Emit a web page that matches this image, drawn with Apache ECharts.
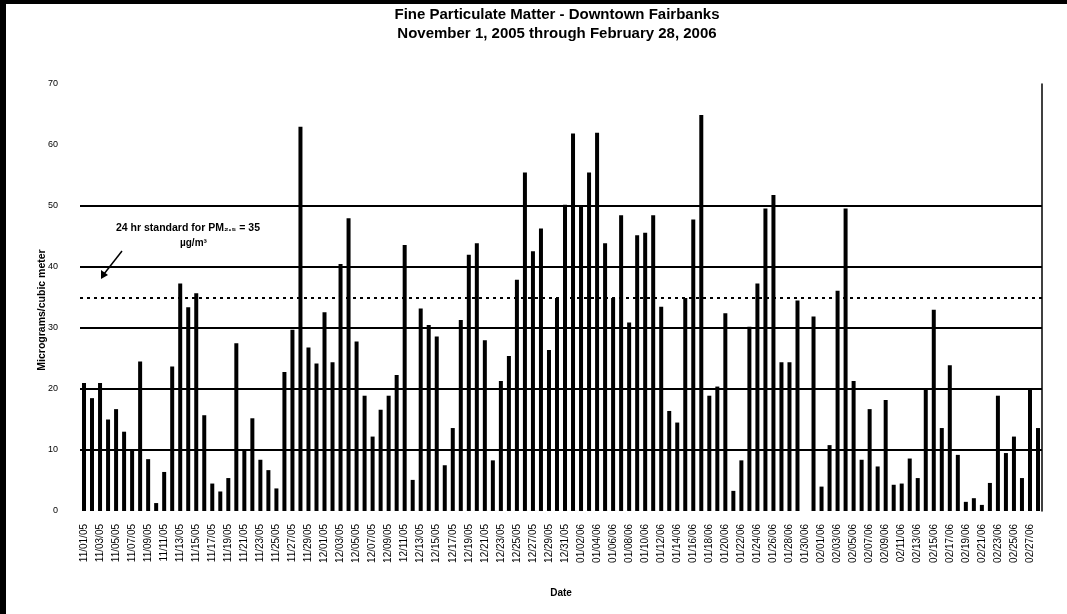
<!DOCTYPE html>
<html>
<head>
<meta charset="utf-8">
<script src="https://cdn.jsdelivr.net/npm/echarts@6/dist/echarts.min.js"></script>
<style>
html,body{margin:0;padding:0;background:#fff;}
#c{width:1067px;height:614px;}
</style>
</head>
<body>
<div id="c"></div>
<script>
const titleLines = ["Fine Particulate Matter - Downtown Fairbanks", "November 1, 2005 through February 28, 2006"];
const yAxisTitle = "Micrograms/cubic meter";
const xAxisTitle = "Date";
const yTicks = [0, 10, 20, 30, 40, 50, 60, 70];
const gridValues = [10, 20, 30, 40, 50];
const standardValue = 35;
const annotation = ["24 hr standard for PM\u2082.\u2085 = 35", "\u00b5g/m\u00b3"];

const novDates = ["11/01/05","11/02/05","11/03/05","11/04/05","11/05/05","11/06/05","11/07/05","11/08/05","11/09/05","11/10/05","11/11/05","11/12/05","11/13/05","11/14/05","11/15/05","11/16/05","11/17/05","11/18/05","11/19/05","11/20/05","11/21/05","11/22/05","11/23/05","11/24/05","11/25/05","11/26/05","11/27/05","11/28/05","11/29/05","11/30/05"];
const decDates = ["12/01/05","12/02/05","12/03/05","12/04/05","12/05/05","12/06/05","12/07/05","12/08/05","12/09/05","12/10/05","12/11/05","12/12/05","12/13/05","12/14/05","12/15/05","12/16/05","12/17/05","12/18/05","12/19/05","12/20/05","12/21/05","12/22/05","12/23/05","12/24/05","12/25/05","12/26/05","12/27/05","12/28/05","12/29/05","12/30/05","12/31/05"];
const janDates = ["01/01/06","01/02/06","01/03/06","01/04/06","01/05/06","01/06/06","01/07/06","01/08/06","01/09/06","01/10/06","01/11/06","01/12/06","01/13/06","01/14/06","01/15/06","01/16/06","01/17/06","01/18/06","01/19/06","01/20/06","01/21/06","01/22/06","01/23/06","01/24/06","01/25/06","01/26/06","01/27/06","01/28/06","01/29/06","01/30/06","01/31/06"];
const febDates = ["02/01/06","02/02/06","02/03/06","02/04/06","02/05/06","02/06/06","02/07/06","02/08/06","02/09/06","02/10/06","02/11/06","02/12/06","02/13/06","02/14/06","02/15/06","02/16/06","02/17/06","02/18/06","02/19/06","02/20/06","02/21/06","02/22/06","02/23/06","02/24/06","02/25/06","02/26/06","02/27/06","02/28/06"];

const novValues = [21, 18.5, 21, 15, 16.7, 13, 10, 24.5, 8.5, 1.3, 6.4, 23.7, 37.3, 33.4, 35.7, 15.7, 4.5, 3.2, 5.4, 27.5, 10, 15.2, 8.4, 6.7, 3.7, 22.8, 29.7, 63, 26.8, 24.2];
const decValues = [32.6, 24.4, 40.5, 48, 27.8, 18.9, 12.2, 16.6, 18.9, 22.3, 43.6, 5.1, 33.2, 30.5, 28.6, 7.5, 13.6, 31.3, 42, 43.9, 28, 8.3, 21.3, 25.4, 37.9, 55.5, 42.6, 46.3, 26.4, 34.9, 50.2];
const janValues = [61.9, 50, 55.5, 62, 43.9, 34.9, 48.5, 30.9, 45.2, 45.6, 48.5, 33.5, 16.4, 14.5, 34.9, 47.8, 64.9, 18.9, 20.4, 32.4, 3.3, 8.3, 30.2, 37.3, 49.6, 51.8, 24.4, 24.4, 34.5, null, 31.9];
const febValues = [4, 10.8, 36.1, 49.6, 21.3, 8.4, 16.7, 7.3, 18.2, 4.3, 4.5, 8.6, 5.4, 20.1, 33, 13.6, 23.9, 9.2, 1.5, 2.1, 1, 4.6, 18.9, 9.5, 12.2, 5.4, 20.1, 13.6];

const categories = novDates.concat(decDates, janDates, febDates);
const values = novValues.concat(decValues, janValues, febValues);

const splitColors = yTicks.map(v => gridValues.indexOf(v) >= 0 ? '#000' : 'rgba(0,0,0,0)');
const FONT = 'Liberation Sans, Arial, sans-serif';

const chart = echarts.init(document.getElementById('c'), null, {renderer: 'canvas'});
chart.setOption({
  animation: false,
  backgroundColor: '#fff',
  grid: {left: 80, right: 25, top: 84, bottom: 103, containLabel: false},
  xAxis: {
    type: 'category',
    data: categories,
    name: xAxisTitle,
    nameLocation: 'middle',
    nameGap: 77,
    nameTextStyle: {fontFamily: FONT, fontSize: 10, fontWeight: 'bold', color: '#000'},
    axisLine: {show: false},
    axisTick: {show: false},
    axisLabel: {interval: 1, rotate: 90, fontSize: 10, fontFamily: FONT, color: '#000', margin: 13}
  },
  yAxis: [
    {
      type: 'value', min: 0, max: 70, interval: 10,
      axisLine: {show: false},
      axisTick: {show: false},
      axisLabel: {fontSize: 9, fontFamily: FONT, color: '#000', margin: 22},
      splitLine: {show: true, lineStyle: {color: splitColors, width: 2}}
    },
    {
      type: 'value', min: 0, max: 70, interval: 10, position: 'right',
      axisLine: {show: true, lineStyle: {color: '#000', width: 1.5}},
      axisTick: {show: false}, axisLabel: {show: false}, splitLine: {show: false}
    }
  ],
  series: [{
    type: 'bar',
    data: values,
    barWidth: 4,
    itemStyle: {color: '#000'},
    markLine: {
      silent: true,
      symbol: 'none',
      label: {show: false},
      lineStyle: {color: '#000', type: [3, 4], width: 2},
      data: [{yAxis: standardValue}]
    }
  }],
  graphic: [
    {type: 'rect', left: 0, top: 0, shape: {width: 6, height: 614}, style: {fill: '#000'}},
    {type: 'rect', left: 0, top: 0, shape: {width: 1067, height: 4}, style: {fill: '#000'}},
    {type: 'text', x: 557, y: 15, style: {text: titleLines[0], font: 'bold 15px ' + FONT, fill: '#000', textAlign: 'center', textVerticalAlign: 'middle'}},
    {type: 'text', x: 557, y: 34, style: {text: titleLines[1], font: 'bold 15px ' + FONT, fill: '#000', textAlign: 'center', textVerticalAlign: 'middle'}},
    {type: 'text', x: 42, y: 310, rotation: Math.PI / 2, style: {text: yAxisTitle, font: 'bold 10.5px ' + FONT, fill: '#000', textAlign: 'center', textVerticalAlign: 'middle'}},
    {type: 'text', x: 116, y: 228, style: {text: annotation[0], font: 'bold 10.5px ' + FONT, fill: '#000', textVerticalAlign: 'middle'}},
    {type: 'text', x: 180, y: 243, style: {text: annotation[1], font: 'bold 10px ' + FONT, fill: '#000', textVerticalAlign: 'middle'}},
    {type: 'line', shape: {x1: 122, y1: 251, x2: 104, y2: 274}, style: {stroke: '#000', lineWidth: 1.5}},
    {type: 'polygon', shape: {points: [[101, 279], [101, 270], [108, 275]]}, style: {fill: '#000'}}
  ]
});
</script>
</body>
</html>
